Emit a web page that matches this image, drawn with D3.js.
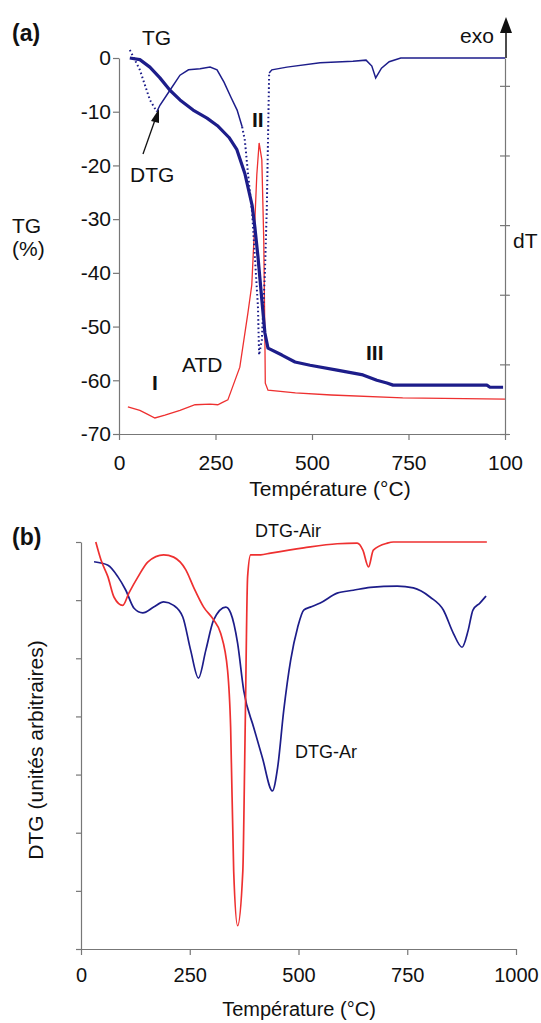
<!DOCTYPE html>
<html>
<head>
<meta charset="utf-8">
<script src="https://cdn.jsdelivr.net/npm/d3@7"></script>
<style>
  body { margin: 0; background: #fff; }
  svg { display: block; font-family: "Liberation Sans", Arial, Helvetica, sans-serif; }
  .axis path, .axis line { stroke: #777; stroke-width: 1.2; }
  .axis text { fill: #111; }
</style>
</head>
<body>
<script>
// panel (a) : TG (%), DTG (same scale, arbitrary), ATD (dT, arbitrary)
const tgT = [28, 54, 80, 106, 132, 158, 192, 228, 255, 285, 305, 326, 345, 352, 360, 370, 378, 386, 422, 456, 495, 565, 632, 668, 694, 710, 953, 961, 995]
const tgV = [0, -0.3, -1.7, -3.7, -6, -7.8, -9.7, -11.2, -12.6, -14.8, -17, -21.5, -27.5, -31.5, -37, -45, -51.2, -54, -55.3, -56.6, -57.2, -58.1, -59, -60, -60.5, -60.9, -60.9, -61.3, -61.3]

const dtgT = [28, 54, 80, 98, 106, 132, 158, 180, 210, 236, 254, 272, 290, 306, 319, 326, 334, 345, 352, 360, 363, 370, 378, 383, 386, 389, 396, 435, 521, 606, 640, 655, 665, 680, 700, 730, 1000]
const dtgV = [1.5, -2.2, -7.8, -10, -8.8, -6, -3.2, -2.2, -2, -1.7, -2.2, -4.5, -7.3, -9.7, -12.8, -15.3, -21.4, -28.9, -37, -46.4, -55.3, -52.5, -40, -27.7, -15.3, -2.8, -2.2, -1.7, -0.9, -0.6, -0.4, -1.5, -3.7, -1.9, -0.7, 0, 0]
// portions of the DTG trace that look dotted (sparse points)
const dtgDotted = [[28, 98], [319, 389]]

const atdT = [23, 54, 72, 93, 119, 158, 197, 236, 256, 267, 282, 313, 334, 344, 352, 357, 363, 370, 375, 378, 379, 386, 457, 550, 735, 1000]
const atdV = [0.39, 0.34, 0.29, 0.23, 0.27, 0.34, 0.42, 0.43, 0.42, 0.45, 0.49, 0.96, 1.74, 2.14, 3.07, 3.72, 4.18, 3.94, 2.79, 1.35, 0.73, 0.63, 0.59, 0.56, 0.52, 0.50]

const tempTicks = [0, 250, 500, 750, 1000]
const tgTicks = [0, -10, -20, -30, -40, -50, -60, -70]
const dtTicks = [0, 1, 2, 3, 4, 5]

// panel (b) : DTG under air and argon (arbitrary units)
const airT = [34, 46, 62, 76, 96, 110, 131, 154, 190, 213, 241, 259, 282, 305, 321, 337, 344, 351, 360, 372, 376, 378, 383, 390, 413, 436, 512, 589, 635, 648, 661, 672, 704, 718, 933]
const airV = [7.0, 6.69, 6.40, 6.05, 5.91, 6.12, 6.40, 6.66, 6.78, 6.74, 6.52, 6.22, 5.88, 5.66, 5.43, 4.79, 3.81, 1.34, 0.40, 1.34, 3.07, 4.10, 6.40, 6.78, 6.78, 6.81, 6.90, 6.97, 6.98, 6.86, 6.57, 6.86, 6.98, 7.0, 7.0]

const arT = [30, 62, 85, 103, 122, 142, 167, 190, 213, 234, 252, 270, 287, 305, 333, 344, 360, 374, 397, 417, 440, 452, 466, 482, 498, 512, 527, 550, 589, 626, 665, 727, 764, 803, 833, 856, 876, 890, 901, 917, 931]
const arV = [6.66, 6.60, 6.40, 6.17, 5.86, 5.78, 5.88, 5.97, 5.91, 5.71, 5.14, 4.66, 5.14, 5.66, 5.88, 5.78, 5.26, 4.45, 3.81, 3.29, 2.72, 3.12, 4.10, 4.97, 5.53, 5.83, 5.88, 5.95, 6.12, 6.17, 6.22, 6.24, 6.21, 6.05, 5.83, 5.43, 5.19, 5.48, 5.83, 5.95, 6.07]
const dtgTicksB = [0, 1, 2, 3, 4, 5, 6, 7]

const NAVY = "#1d1d8a"
const RED = "#ee3030"

const svg = d3.select("body").append("svg")
    .attr("width", 541)
    .attr("height", 1023)

function zip(xs, ys) {
    return xs.map((x, i) => [x, ys[i]])
}

function label(g, x, y, txt, size, bold) {
    return g.append("text")
        .attr("x", x).attr("y", y)
        .attr("font-size", size)
        .attr("font-weight", bold ? "bold" : null)
        .attr("fill", "#111")
        .text(txt)
}

// ---------- panel (a) ----------
const ga = svg.append("g")
const xa = d3.scaleLinear().domain([0, 1000]).range([119, 505])
const ya = d3.scaleLinear().domain([-70, 0]).range([434, 58])
const yd = d3.scaleLinear().domain([0, 5.4]).range([434, 58])

// the 1000 label is cut to "100" in the original figure
ga.append("g").attr("class", "axis")
    .attr("transform", "translate(0,434)")
    .call(d3.axisBottom(xa).tickValues(tempTicks).tickSize(6).tickSizeOuter(0).tickPadding(15)
        .tickFormat(d => d == 1000 ? "100" : String(d)))
    .call(g => g.selectAll("text").attr("font-size", 21).attr("font-family", null))

ga.append("g").attr("class", "axis")
    .attr("transform", "translate(119,0)")
    .call(d3.axisLeft(ya).tickValues(tgTicks).tickSize(6).tickSizeOuter(0).tickPadding(2)
        .tickFormat(d => String(d)))
    .call(g => g.selectAll("text").attr("font-size", 21).attr("font-family", null))

ga.append("g").attr("class", "axis")
    .attr("transform", "translate(505,0)")
    .call(d3.axisRight(yd).tickValues(dtTicks).tickSize(5).tickSizeOuter(0).tickFormat(""))
    .call(g => g.selectAll(".tick line").attr("x1", -5))
    .call(g => g.select(".domain").attr("stroke", "#555"))

const lineA = d3.line().x(d => xa(d[0])).y(d => ya(d[1]))
const lineD = d3.line().x(d => xa(d[0])).y(d => yd(d[1]))

ga.append("path")
    .attr("d", lineD(zip(atdT, atdV)))
    .attr("fill", "none").attr("stroke", RED).attr("stroke-width", 1.3)

// DTG: solid parts and dotted parts
const dtgPts = zip(dtgT, dtgV)
const inDotted = t => dtgDotted.some(r => t > r[0] && t < r[1])
ga.append("path")
    .attr("d", d3.line().x(d => xa(d[0])).y(d => ya(d[1])).defined(d => !inDotted(d[0]))(dtgPts))
    .attr("fill", "none").attr("stroke", NAVY).attr("stroke-width", 1.5)
dtgDotted.forEach(r => {
    ga.append("path")
        .attr("d", lineA(dtgPts.filter(d => d[0] >= r[0] && d[0] <= r[1])))
        .attr("fill", "none").attr("stroke", NAVY).attr("stroke-width", 2)
        .attr("stroke-dasharray", "1.6,2.6")
})

ga.append("path")
    .attr("d", lineA(zip(tgT, tgV)))
    .attr("fill", "none").attr("stroke", NAVY).attr("stroke-width", 3.2)
    .attr("stroke-linejoin", "round")

label(ga, 12, 41, "(a)", 23, true)
label(ga, 142, 45, "TG", 21)
label(ga, 12, 233, "TG", 21)
label(ga, 12, 256, "(%)", 21)
label(ga, 513, 248, "dT", 21)
label(ga, 460, 43, "exo", 21)
label(ga, 130, 182, "DTG", 21)
label(ga, 252, 127, "II", 21, true)
label(ga, 152, 390, "I", 21, true)
label(ga, 182, 372, "ATD", 21)
label(ga, 366, 360, "III", 21, true)
ga.append("text")
    .attr("x", 330).attr("y", 496)
    .attr("text-anchor", "middle").attr("font-size", 21).attr("fill", "#111")
    .text("Température (°C)")

// exo arrow
ga.append("line").attr("x1", 506).attr("x2", 506).attr("y1", 58).attr("y2", 28)
    .attr("stroke", "#111").attr("stroke-width", 1.5)
ga.append("path").attr("d", "M500,33 L512,33 L506,17 Z").attr("fill", "#111")

// DTG pointer arrow
ga.append("line").attr("x1", 143).attr("y1", 154).attr("x2", 155).attr("y2", 120)
    .attr("stroke", "#111").attr("stroke-width", 1.3)
ga.append("path").attr("d", "M159,109 L151,121 L159,123 Z").attr("fill", "#111")

// ---------- panel (b) ----------
const gb = svg.append("g")
const xb = d3.scaleLinear().domain([0, 1000]).range([81, 516])
const yb = d3.scaleLinear().domain([0, 7]).range([949, 542])

gb.append("g").attr("class", "axis")
    .attr("transform", "translate(0,949)")
    .call(d3.axisBottom(xb).tickValues(tempTicks).tickSize(6).tickSizeOuter(0).tickPadding(13)
        .tickFormat(d => String(d)))
    .call(g => g.selectAll("text").attr("font-size", 20).attr("font-family", null))

gb.append("g").attr("class", "axis")
    .attr("transform", "translate(81,0)")
    .call(d3.axisLeft(yb).tickValues(dtgTicksB).tickSize(5).tickSizeOuter(0).tickFormat(""))

const lineB = d3.line().x(d => xb(d[0])).y(d => yb(d[1])).curve(d3.curveMonotoneX)

gb.append("path")
    .attr("d", lineB(zip(arT, arV)))
    .attr("fill", "none").attr("stroke", NAVY).attr("stroke-width", 1.7)
gb.append("path")
    .attr("d", lineB(zip(airT, airV)))
    .attr("fill", "none").attr("stroke", RED).attr("stroke-width", 1.7)

label(gb, 12, 545, "(b)", 23, true)
label(gb, 255, 537, "DTG-Air", 18)
label(gb, 295, 758, "DTG-Ar", 18)
gb.append("text")
    .attr("transform", "translate(43,750) rotate(-90)")
    .attr("text-anchor", "middle").attr("font-size", 21).attr("fill", "#111")
    .text("DTG (unités arbitraires)")
gb.append("text")
    .attr("x", 299).attr("y", 1016)
    .attr("text-anchor", "middle").attr("font-size", 20).attr("fill", "#111")
    .text("Température (°C)")
</script>
</body>
</html>
